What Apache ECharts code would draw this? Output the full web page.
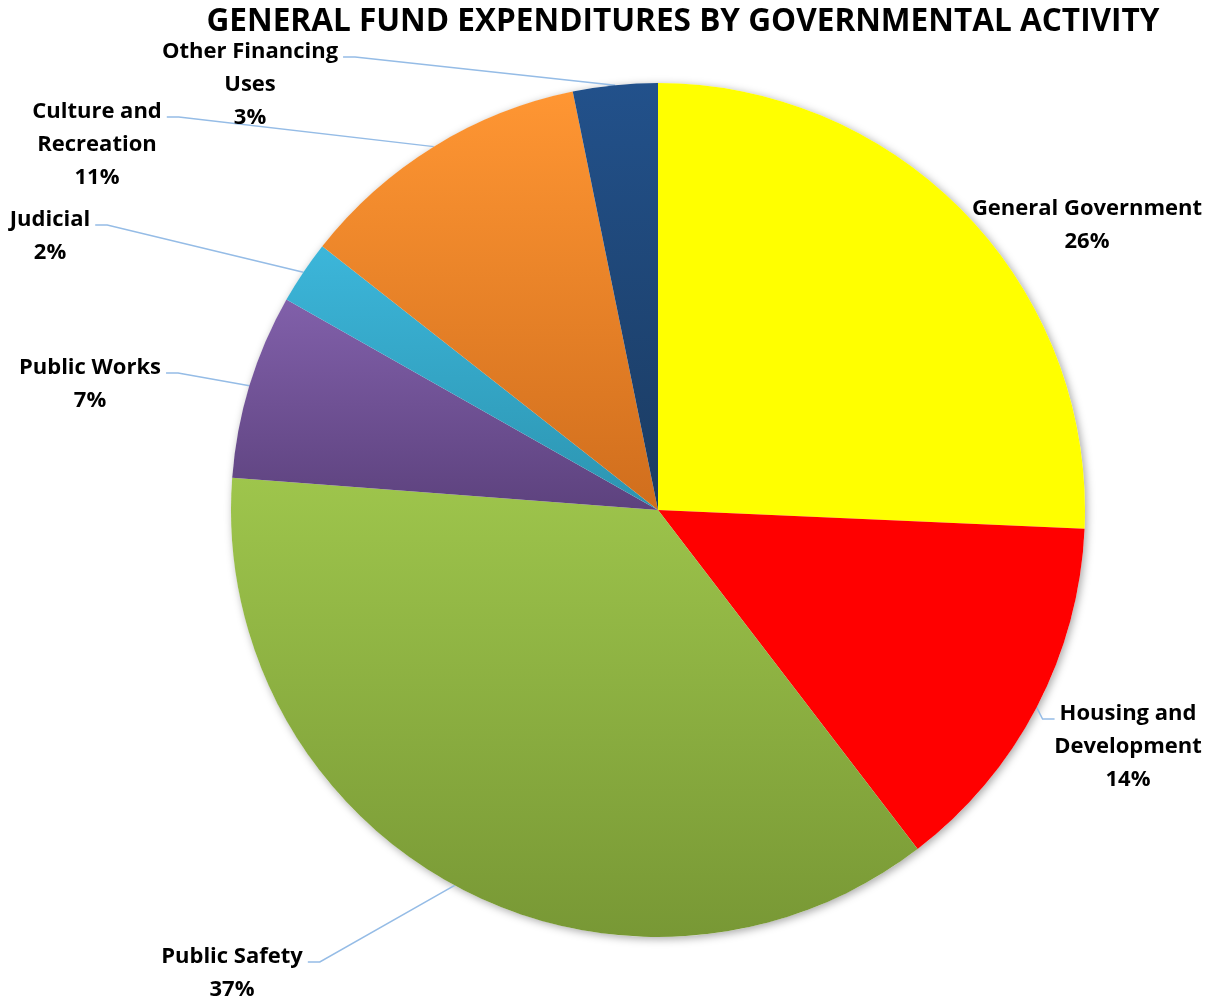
<!DOCTYPE html>
<html>
<head>
<meta charset="utf-8">
<script src="https://cdn.jsdelivr.net/npm/echarts@6/dist/echarts.min.js"></script>
<style>
  html, body { margin: 0; padding: 0; background: #ffffff; }
  #chart { width: 1213px; height: 999px; }
</style>
</head>
<body>
<div id="chart"></div>
<script>
// General fund expenditures, share of total by governmental activity (%)
const categories = [
  'General Government',
  'Housing and Development',
  'Public Safety',
  'Public Works',
  'Judicial',
  'Culture and Recreation',
  'Other Financing Uses'
];
const shares = [25.7, 13.9, 36.6, 7.0, 2.4, 11.2, 3.2];

const chartTitle = 'GENERAL FUND EXPENDITURES BY GOVERNMENTAL ACTIVITY';

// top / bottom colours of each slice's vertical gradient
const sliceColors = [
  ['#FFFF00', '#FFFF00'],
  ['#FF0000', '#FF0000'],
  ['#9EC54C', '#789835'],
  ['#8160AA', '#5D427E'],
  ['#3CB6DA', '#2C94B0'],
  ['#FF9633', '#D06E1D'],
  ['#22518B', '#1B3B61']
];

// how long names wrap in their labels
const wrappedNames = {
  'Housing and Development': 'Housing and\nDevelopment',
  'Culture and Recreation': 'Culture and\nRecreation',
  'Other Financing Uses': 'Other Financing\nUses'
};

// label placement: centre of first text line, and which side the leader leaves from
const labelSpots = [
  { x: 1087, y: 207, side: null },
  { x: 1128, y: 712, side: 'left' },
  { x: 232, y: 955, side: 'right' },
  { x: 90, y: 366, side: 'right' },
  { x: 50, y: 218, side: 'right' },
  { x: 97, y: 110, side: 'right' },
  { x: 250, y: 50, side: 'right' }
];

const pieCenter = [658, 510];
const pieRadius = 427;
const labelFont = 'Open Sans';
const labelSize = 22;
const lineH = 33;

const measureCtx = document.createElement('canvas').getContext('2d');
function textWidth(str, font) {
  measureCtx.font = font;
  return measureCtx.measureText(str).width;
}

const total = shares.reduce((a, b) => a + b, 0);
// mid-angle of each slice, clockwise from 12 o'clock (radians)
const midAngles = [];
{
  let acc = 0;
  shares.forEach(v => {
    midAngles.push(((acc + v / 2) / total) * Math.PI * 2);
    acc += v;
  });
}

function labelText(name, pct) {
  return (wrappedNames[name] || name) + '\n' + Math.round(pct) + '%';
}

const chart = echarts.init(document.getElementById('chart'), null, { renderer: 'canvas' });

const titleFont = 'bold 32px ' + labelFont;
const titleScale = 953 / textWidth(chartTitle, titleFont);

const option = {
  backgroundColor: '#ffffff',
  animation: false,
  graphic: [{
    type: 'text',
    x: 683,
    y: 22,
    scaleX: titleScale,
    z: 10,
    style: {
      text: chartTitle,
      font: titleFont,
      fill: '#000000',
      textAlign: 'center',
      textVerticalAlign: 'middle'
    }
  }],
  series: [
    {
      // soft drop shadow under the whole pie
      type: 'pie',
      silent: true,
      z: 1,
      center: pieCenter,
      radius: pieRadius,
      label: { show: false },
      labelLine: { show: false },
      itemStyle: {
        color: '#ffffff',
        shadowBlur: 8,
        shadowColor: 'rgba(0,0,0,0.35)',
        shadowOffsetX: 2,
        shadowOffsetY: 2
      },
      data: [{ value: 1, name: '' }]
    },
    {
      type: 'pie',
      z: 2,
      center: pieCenter,
      radius: pieRadius,
      startAngle: 90,
      clockwise: true,
      avoidLabelOverlap: false,
      data: categories.map((name, i) => ({
        name: name,
        value: shares[i],
        itemStyle: {
          color: new echarts.graphic.LinearGradient(0, 0, 0, 1, [
            { offset: 0, color: sliceColors[i][0] },
            { offset: 1, color: sliceColors[i][1] }
          ])
        },
        labelLine: { show: labelSpots[i].side !== null }
      })),
      itemStyle: { borderWidth: 0 },
      label: {
        show: true,
        position: 'outside',
        formatter: p => labelText(p.name, p.percent),
        fontFamily: labelFont,
        fontWeight: 'bold',
        fontSize: labelSize,
        lineHeight: lineH,
        color: '#000000',
        align: 'center'
      },
      labelLine: {
        show: true,
        length: 10,
        length2: 10,
        smooth: false,
        lineStyle: { color: '#95BCE6', width: 1.5 }
      },
      labelLayout: function (p) {
        const i = p.dataIndex;
        const s = labelSpots[i];
        const res = {
          x: s.x,
          y: s.y - lineH / 2 + 1.5,
          align: 'center',
          verticalAlign: 'top'
        };
        if (s.side) {
          const firstLine = labelText(categories[i], 0).split('\n')[0];
          const w = textWidth(firstLine, 'bold ' + labelSize + 'px ' + labelFont);
          const ay = s.y + 7;
          const ax = s.side === 'right' ? s.x + w / 2 + 5 : s.x - w / 2 - 5;
          const bx = s.side === 'right' ? ax + 12 : ax - 12;
          const a = midAngles[i];
          const edge = [
            pieCenter[0] + pieRadius * Math.sin(a),
            pieCenter[1] - pieRadius * Math.cos(a)
          ];
          res.labelLinePoints = [edge, [bx, ay], [ax, ay]];
        }
        return res;
      }
    }
  ]
};

chart.setOption(option);
</script>
</body>
</html>
